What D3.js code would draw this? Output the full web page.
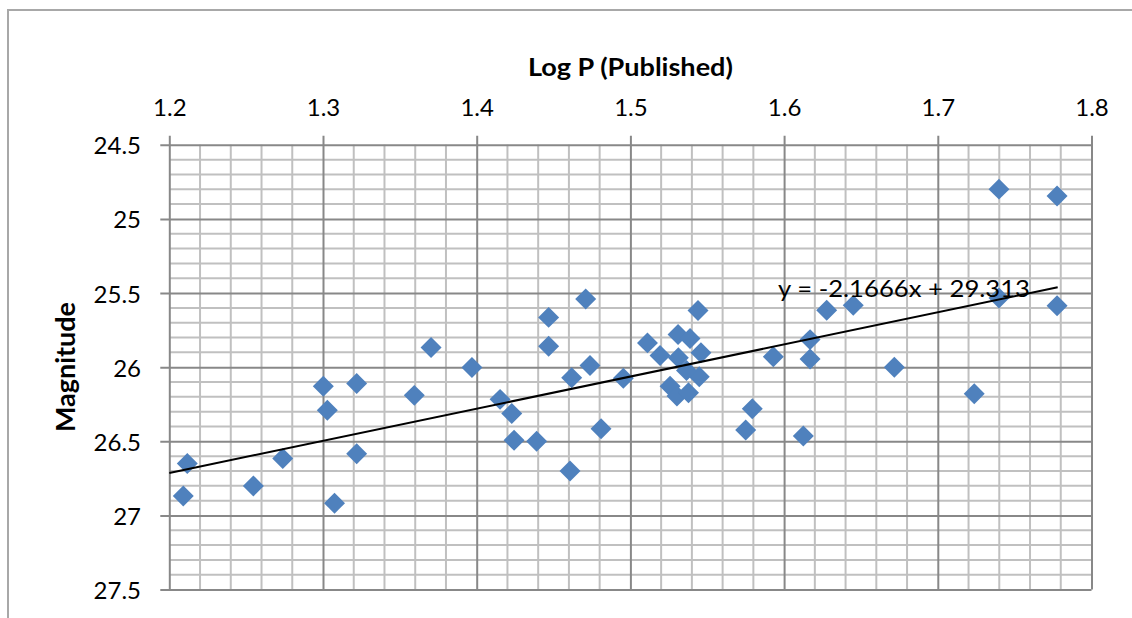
<!DOCTYPE html>
<html>
<head>
<meta charset="utf-8">
<script src="https://cdn.jsdelivr.net/npm/d3@7"></script>
<style>
  html, body { margin: 0; padding: 0; background: #fff; }
  svg { display: block; }
  text { font-family: Lato, "Open Sans", sans-serif; fill: #000; }
</style>
</head>
<body>
<svg id="chart" width="1132" height="618"></svg>
<script>
// ---- data ----
const logP = [
  1.2091, 1.2117, 1.2547, 1.2738, 1.3002, 1.3028, 1.3075, 1.3219, 1.3219, 1.3594,
  1.3703, 1.3969, 1.4152, 1.4228, 1.4243, 1.4390, 1.4468, 1.4468, 1.4607, 1.4618,
  1.4709, 1.4737, 1.4809, 1.4954, 1.5111, 1.5193, 1.5258, 1.5310, 1.5312, 1.5303,
  1.5388, 1.5378, 1.5440, 1.5459, 1.5448, 1.5365, 1.5750, 1.5793, 1.5930, 1.6125,
  1.6169, 1.6169, 1.6277, 1.6450, 1.6717, 1.7237, 1.7398, 1.7398, 1.7776, 1.7776
];
const magnitude = [
  26.868, 26.650, 26.801, 26.616, 26.128, 26.291, 26.917, 26.110, 26.583, 26.190,
  25.867, 26.002, 26.217, 26.312, 26.493, 26.500, 25.664, 25.859, 26.700, 26.071,
  25.540, 25.989, 26.415, 26.074, 25.836, 25.921, 26.128, 25.780, 25.937, 26.194,
  25.807, 26.172, 25.618, 25.903, 26.065, 26.022, 26.424, 26.280, 25.930, 26.464,
  25.814, 25.944, 25.616, 25.583, 26.000, 26.179, 24.799, 25.533, 24.845, 25.585
];
const xTicks = [1.2, 1.3, 1.4, 1.5, 1.6, 1.7, 1.8];
const yTicks = [24.5, 25, 25.5, 26, 26.5, 27, 27.5];
const trendSlope = -2.1666;
const trendIntercept = 29.313;
const trendRange = [1.2, 1.778];
const equationLabel = "y = -2.1666x + 29.313";
const xTitle = "Log P (Published)";
const yTitle = "Magnitude";

// ---- layout ----
const svg = d3.select("#chart");
const L = 169.3, R = 1091.5, T = 144.8, B = 589.6;
const x = d3.scaleLinear().domain([1.2, 1.8]).range([L, R]);
const y = d3.scaleLinear().domain([24.5, 27.5]).range([T, B]);

// outer frame
svg.append("rect").attr("x", 8).attr("y", 10).attr("width", 1200).attr("height", 700)
  .attr("fill", "none").attr("stroke", "#a8a8a8").attr("stroke-width", 2);

const minorColor = "#c0c0c0", majorColor = "#888888";

// minor gridlines
const xMinor = d3.range(0, 31).map(i => 1.2 + i * 0.02).filter((v, i) => i % 5 !== 0);
const yMinor = d3.range(0, 31).map(i => 24.5 + i * 0.1).filter((v, i) => i % 5 !== 0);

const g = svg.append("g");
g.selectAll(".xminor").data(xMinor).join("line")
  .attr("x1", d => x(d)).attr("x2", d => x(d)).attr("y1", T).attr("y2", B)
  .attr("stroke", minorColor).attr("stroke-width", 2);
g.selectAll(".yminor").data(yMinor).join("line")
  .attr("x1", L).attr("x2", R).attr("y1", d => y(d)).attr("y2", d => y(d))
  .attr("stroke", minorColor).attr("stroke-width", 2);

// major gridlines via axes
const xAxis = d3.axisTop(x).tickValues(xTicks).tickSize(B - T + 9).tickFormat(d3.format(".1f")).tickPadding(20);
const xg = svg.append("g").attr("transform", `translate(0,${B})`).call(xAxis);
xg.select(".domain").remove();
xg.selectAll(".tick line").attr("stroke", majorColor).attr("stroke-width", 2);
xg.selectAll(".tick text").attr("font-size", 24).attr("font-family", "Lato")
  .attr("y", null).attr("dy", null)
  .attr("transform", `translate(0,${116 - B})`);

const yAxis = d3.axisLeft(y).tickValues(yTicks).tickSize(R - L + 9).tickFormat(d => d3.format("")(d)).tickPadding(0);
const yg = svg.append("g").attr("transform", `translate(${R},0)`).call(yAxis);
yg.select(".domain").remove();
yg.selectAll(".tick line").attr("stroke", majorColor).attr("stroke-width", 2);
yg.selectAll(".tick text").attr("font-size", 24).attr("font-family", "Lato")
  .attr("x", 141 - R).attr("dy", null).attr("y", 9).attr("text-anchor", "end");

// points
svg.append("g").selectAll("path").data(logP.map((v, i) => [v, magnitude[i]])).join("path")
  .attr("d", d3.symbol(d3.symbolSquare, 220))
  .attr("transform", d => `translate(${x(d[0])},${y(d[1])}) rotate(45)`)
  .attr("fill", "#4F81BD");

// trendline
svg.append("line")
  .attr("x1", x(trendRange[0])).attr("y1", y(trendSlope * trendRange[0] + trendIntercept))
  .attr("x2", x(trendRange[1])).attr("y2", y(trendSlope * trendRange[1] + trendIntercept))
  .attr("stroke", "#000").attr("stroke-width", 2);

// equation label
svg.append("text").attr("x", 778).attr("y", 297).attr("font-size", 24)
  .attr("textLength", 252).attr("lengthAdjust", "spacingAndGlyphs")
  .text(equationLabel);

// titles
svg.append("text").attr("x", (L + R) / 2).attr("y", 76).attr("text-anchor", "middle")
  .attr("font-size", 25).attr("font-weight", "bold")
  .attr("textLength", 205).attr("lengthAdjust", "spacingAndGlyphs")
  .text(xTitle);
svg.append("text").attr("transform", "translate(75,367) rotate(-90)").attr("text-anchor", "middle")
  .attr("font-size", 26).attr("font-weight", "bold")
  .attr("textLength", 130).attr("lengthAdjust", "spacingAndGlyphs")
  .text(yTitle);
</script>
</body>
</html>
